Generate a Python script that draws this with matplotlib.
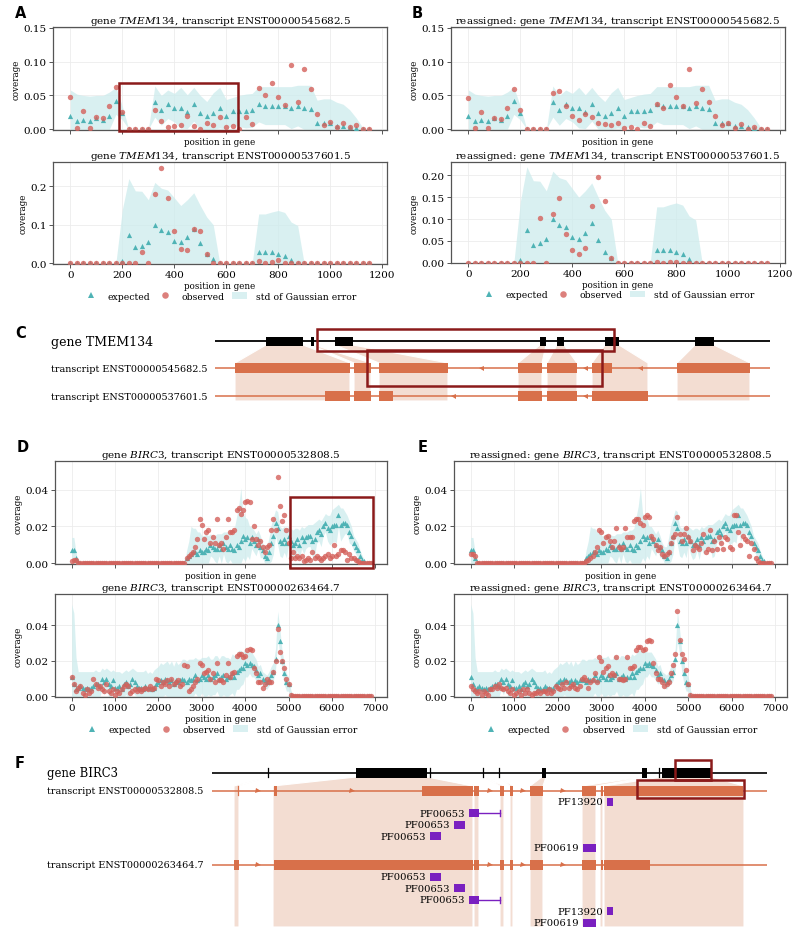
import numpy as np
import matplotlib
matplotlib.use('Agg')
import matplotlib.pyplot as plt
from matplotlib.patches import Rectangle, Polygon, Patch
from matplotlib.lines import Line2D
from matplotlib.ticker import FormatStrFormatter

plt.rcParams['font.family'] = ['DejaVu Serif']
plt.rcParams['mathtext.fontset'] = 'dejavuserif'

# ---------------------------------------------------------------- data: TMEM134
tm_pos = np.arange(0, 1151, 25)

exp_545 = [0.019, 0.012, 0.014, 0.013, 0.016, 0.014, 0.020, 0.042, 0.024,
           0.0, 0.0, 0.0, 0.0,
           0.041, 0.028, 0.037, 0.032, 0.032, 0.026, 0.037, 0.024, 0.019, 0.024, 0.032, 0.019,
           0.027, 0.027, 0.027, 0.028,
           0.037, 0.035, 0.035, 0.035, 0.035, 0.032, 0.035, 0.032, 0.030, 0.010, 0.010, 0.010,
           0.005, 0.005, 0.003, 0.002, 0.000, 0.000]
std_545 = [0.039, 0.040, 0.036, 0.036, 0.034, 0.036, 0.035, 0.020, 0.010,
           0.0, 0.0, 0.0, 0.0,
           0.023, 0.022, 0.021, 0.021, 0.030, 0.025, 0.025, 0.026, 0.022, 0.030, 0.030, 0.025,
           0.020, 0.023, 0.025, 0.025,
           0.026, 0.028, 0.028, 0.028, 0.028, 0.031, 0.030, 0.033, 0.035, 0.033, 0.035, 0.035,
           0.035, 0.032, 0.026, 0.015, 0.003, 0.0]
obs_545_A = [0.048, 0.002, 0.027, 0.002, 0.018, 0.016, 0.034, 0.063, 0.025,
             0.0, 0.0, 0.0, 0.0,
             0.028, 0.013, 0.004, 0.005, 0.006, 0.020, 0.005, 0.001, 0.009, 0.006, 0.018, 0.003,
             0.005, 0.001, 0.018, 0.008,
             0.061, 0.051, 0.069, 0.048, 0.036, 0.095, 0.041, 0.089, 0.060, 0.023, 0.007, 0.011,
             0.004, 0.010, 0.003, 0.007, 0.000, 0.000]
obs_545_B = [0.046, 0.002, 0.026, 0.002, 0.017, 0.015, 0.032, 0.060, 0.028,
             0.0, 0.0, 0.0, 0.0,
             0.054, 0.057, 0.035, 0.019, 0.014, 0.023, 0.018, 0.010, 0.008, 0.006, 0.010, 0.002,
             0.003, 0.001, 0.010, 0.005,
             0.038, 0.031, 0.065, 0.047, 0.034, 0.089, 0.039, 0.059, 0.041, 0.020, 0.006, 0.010,
             0.002, 0.008, 0.001, 0.004, 0.000, 0.000]

exp_537 = [0.0] * 8 + [0.005,
           0.074, 0.041, 0.044, 0.054, 0.100, 0.086, 0.081, 0.059, 0.054, 0.069, 0.090, 0.052, 0.024, 0.010] \
    + [0.0] * 6 + [0.029, 0.028, 0.029, 0.025, 0.020, 0.008] + [0.0] * 12
std_537 = [0.0] * 8 + [0.135,
           0.146, 0.147, 0.143, 0.111, 0.110, 0.109, 0.109, 0.111, 0.096, 0.096, 0.093, 0.098, 0.096, 0.090] \
    + [0.0] * 6 + [0.099, 0.100, 0.104, 0.112, 0.112, 0.099] + [0.098] + [0.0] * 11
obs_537_A = [0.0] * 11 + [0.028, 0.0,
             0.179, 0.248, 0.170, 0.083, 0.038, 0.034, 0.090, 0.083, 0.025] \
    + [0.0] * 7 + [0.006, 0.000, 0.002, 0.008, 0.001, 0.000] + [0.0] * 12
obs_537_B = [0.0] * 11 + [0.102, 0.0,
             0.112, 0.148, 0.066, 0.030, 0.020, 0.033, 0.131, 0.196, 0.142, 0.010] \
    + [0.0] * 6 + [0.002, 0.000, 0.001, 0.001, 0.000, 0.000] + [0.0] * 12

# ---------------------------------------------------------------- data: BIRC3
bi_pos = np.arange(0, 6901, 50)

exp_532 = [0.007, 0.007, 0.003] + [0.0] * 50 + [
    0.003, 0.004, 0.005, 0.006, 0.006, 0.005, 0.007, 0.006, 0.006, 0.008,
    0.007, 0.010, 0.009, 0.008, 0.008, 0.010, 0.008, 0.011, 0.009, 0.008,
    0.010, 0.008, 0.007, 0.010, 0.009, 0.012, 0.015, 0.013, 0.014, 0.011,
    0.014, 0.012, 0.010, 0.013, 0.009, 0.007, 0.004, 0.003, 0.006, 0.011,
    0.015, 0.022, 0.019, 0.012, 0.011, 0.013, 0.011, 0.015, 0.012, 0.010,
    0.011, 0.013, 0.010, 0.014, 0.012, 0.014, 0.015, 0.015, 0.012, 0.013,
    0.017, 0.018, 0.016, 0.020, 0.022, 0.019, 0.018, 0.020, 0.021, 0.021,
    0.026, 0.021, 0.022, 0.022, 0.021, 0.017, 0.015, 0.011, 0.009, 0.007,
    0.004, 0.002, 0.001, 0.000, 0.000, 0.000]
std_532 = [0.007, 0.007, 0.003] + [0.0] * 50 + [
    0.004, 0.008, 0.015, 0.013, 0.013, 0.012, 0.010, 0.009, 0.009, 0.008,
    0.008, 0.006, 0.006, 0.007, 0.008, 0.006, 0.008, 0.006, 0.008, 0.009,
    0.008, 0.010, 0.012, 0.015, 0.022, 0.029, 0.012, 0.012, 0.010, 0.009,
    0.006, 0.006, 0.006, 0.005, 0.006, 0.004, 0.005, 0.006, 0.008, 0.010,
    0.010, 0.007, 0.009, 0.008, 0.008, 0.007, 0.008, 0.005, 0.007, 0.008,
    0.008, 0.006, 0.008, 0.006, 0.007, 0.006, 0.006, 0.006, 0.009, 0.009,
    0.006, 0.006, 0.007, 0.005, 0.005, 0.007, 0.008, 0.009, 0.009, 0.010,
    0.006, 0.009, 0.008, 0.006, 0.005, 0.006, 0.005, 0.004, 0.004, 0.004,
    0.003, 0.002, 0.001, 0.000, 0.000, 0.000]
obs_532_D = [0.001, 0.002, 0.002] + [0.0] * 50 + [
    0.003, 0.004, 0.005, 0.006, 0.009, 0.013, 0.024, 0.021, 0.013, 0.017,
    0.018, 0.011, 0.014, 0.011, 0.024, 0.010, 0.011, 0.008, 0.014, 0.024,
    0.017, 0.017, 0.018, 0.029, 0.030, 0.027, 0.029, 0.033, 0.034, 0.033,
    0.013, 0.020, 0.013, 0.010, 0.012, 0.009, 0.006, 0.009, 0.010, 0.018,
    0.024, 0.018, 0.047, 0.031, 0.023, 0.026, 0.018, 0.011, 0.003, 0.006,
    0.003, 0.004, 0.003, 0.004, 0.001, 0.002, 0.003, 0.002, 0.006, 0.003,
    0.004, 0.003, 0.002, 0.003, 0.004, 0.005, 0.003, 0.004, 0.010, 0.004,
    0.005, 0.007, 0.007, 0.006, 0.002, 0.005, 0.003, 0.003, 0.002, 0.001,
    0.000, 0.000, 0.000, 0.000, 0.000, 0.000]
obs_532_E = [0.005, 0.005, 0.004] + [0.0] * 50 + [
    0.001, 0.002, 0.003, 0.004, 0.006, 0.009, 0.018, 0.017, 0.011, 0.014,
    0.015, 0.012, 0.009, 0.012, 0.019, 0.009, 0.008, 0.009, 0.019, 0.014,
    0.014, 0.014, 0.023, 0.024, 0.024, 0.022, 0.021, 0.025, 0.026, 0.025,
    0.015, 0.013, 0.010, 0.007, 0.009, 0.005, 0.004, 0.005, 0.006, 0.011,
    0.014, 0.016, 0.025, 0.016, 0.012, 0.016, 0.019, 0.014, 0.012, 0.007,
    0.010, 0.009, 0.008, 0.011, 0.016, 0.006, 0.008, 0.018, 0.007, 0.012,
    0.008, 0.014, 0.011, 0.008, 0.014, 0.013, 0.009, 0.008, 0.026, 0.026,
    0.017, 0.010, 0.015, 0.013, 0.012, 0.004, 0.011, 0.008, 0.003, 0.001,
    0.000, 0.000, 0.000, 0.000, 0.000, 0.000]

exp_263 = [
    0.011, 0.007, 0.004, 0.005, 0.006, 0.005, 0.004, 0.005, 0.004, 0.005,
    0.006, 0.007, 0.007, 0.006, 0.010, 0.008, 0.010, 0.007, 0.006, 0.009,
    0.005, 0.005, 0.006, 0.004, 0.007, 0.008, 0.006, 0.007, 0.010, 0.008,
    0.006, 0.005, 0.005, 0.004, 0.006, 0.005, 0.005, 0.004, 0.005, 0.007,
    0.008, 0.009, 0.008, 0.010, 0.009, 0.008, 0.009, 0.007, 0.009, 0.008,
    0.009, 0.010, 0.009, 0.008, 0.010, 0.009, 0.010, 0.012, 0.009, 0.010,
    0.012, 0.011, 0.010, 0.012, 0.010, 0.011, 0.012, 0.013, 0.010, 0.011,
    0.012, 0.010, 0.011, 0.011, 0.013, 0.011, 0.014, 0.015, 0.016, 0.016,
    0.019, 0.018, 0.019, 0.018, 0.017, 0.015, 0.012, 0.013, 0.010, 0.009,
    0.008, 0.010, 0.012, 0.014, 0.021, 0.040, 0.031, 0.020, 0.013, 0.008,
    0.007, 0.001] + [0.0] * 37
std_263 = [
    0.041, 0.040, 0.018, 0.009, 0.008, 0.009, 0.010, 0.009, 0.010, 0.009,
    0.008, 0.008, 0.007, 0.008, 0.006, 0.007, 0.006, 0.008, 0.008, 0.006,
    0.009, 0.009, 0.008, 0.009, 0.007, 0.007, 0.008, 0.008, 0.006, 0.007,
    0.008, 0.009, 0.009, 0.010, 0.009, 0.008, 0.009, 0.009, 0.010, 0.009,
    0.009, 0.010, 0.010, 0.009, 0.011, 0.010, 0.011, 0.010, 0.011, 0.010,
    0.010, 0.011, 0.012, 0.012, 0.011, 0.012, 0.011, 0.010, 0.012, 0.011,
    0.010, 0.011, 0.012, 0.011, 0.011, 0.010, 0.011, 0.010, 0.011, 0.012,
    0.011, 0.012, 0.011, 0.010, 0.011, 0.012, 0.010, 0.011, 0.010, 0.009,
    0.008, 0.007, 0.006, 0.007, 0.006, 0.006, 0.005, 0.005, 0.004, 0.004,
    0.004, 0.004, 0.005, 0.005, 0.006, 0.008, 0.007, 0.006, 0.006, 0.005,
    0.004, 0.003] + [0.0] * 37
obs_263_D = [
    0.011, 0.007, 0.003, 0.005, 0.006, 0.002, 0.001, 0.004, 0.002, 0.003,
    0.010, 0.007, 0.005, 0.006, 0.004, 0.003, 0.007, 0.003, 0.002, 0.004,
    0.001, 0.003, 0.002, 0.004, 0.006, 0.007, 0.006, 0.002, 0.003, 0.004,
    0.003, 0.004, 0.003, 0.004, 0.005, 0.004, 0.006, 0.004, 0.005, 0.010,
    0.009, 0.006, 0.008, 0.007, 0.009, 0.006, 0.010, 0.007, 0.008, 0.009,
    0.006, 0.007, 0.018, 0.017, 0.003, 0.004, 0.006, 0.008, 0.010, 0.019,
    0.018, 0.013, 0.014, 0.015, 0.010, 0.013, 0.008, 0.019, 0.009, 0.009,
    0.008, 0.012, 0.019, 0.011, 0.013, 0.014, 0.023, 0.024, 0.024, 0.022,
    0.023, 0.026, 0.027, 0.026, 0.016, 0.013, 0.008, 0.008, 0.005, 0.007,
    0.010, 0.008, 0.008, 0.014, 0.020, 0.038, 0.025, 0.020, 0.016, 0.010,
    0.007, 0.001] + [0.0] * 37
obs_263_E = [
    0.006, 0.004, 0.003, 0.002, 0.003, 0.001, 0.003, 0.002, 0.001, 0.004,
    0.004, 0.006, 0.005, 0.007, 0.005, 0.004, 0.005, 0.003, 0.002, 0.004,
    0.001, 0.002, 0.003, 0.001, 0.004, 0.002, 0.004, 0.002, 0.001, 0.002,
    0.002, 0.003, 0.002, 0.003, 0.003, 0.002, 0.004, 0.002, 0.003, 0.006,
    0.005, 0.004, 0.007, 0.005, 0.008, 0.005, 0.006, 0.007, 0.005, 0.004,
    0.006, 0.010, 0.011, 0.009, 0.005, 0.008, 0.009, 0.013, 0.008, 0.022,
    0.020, 0.014, 0.016, 0.017, 0.012, 0.013, 0.012, 0.022, 0.010, 0.010,
    0.009, 0.010, 0.022, 0.016, 0.016, 0.017, 0.026, 0.028, 0.028, 0.026,
    0.027, 0.031, 0.032, 0.031, 0.019, 0.013, 0.010, 0.010, 0.008, 0.006,
    0.007, 0.008, 0.013, 0.018, 0.024, 0.048, 0.032, 0.024, 0.021, 0.015,
    0.007, 0.001] + [0.0] * 37

# ---------------------------------------------------------------- data: gene structures
# panel C (diagram units)
C_gene_exons = [(266, 303), (311, 314), (335, 353), (540, 546), (557, 564), (605, 619), (695, 714)]
C_t1_exons = [(235, 350), (354, 371), (379, 448), (518, 542), (547, 577), (592, 612), (677, 750)]
C_t2_exons = [(325, 350), (354, 371), (379, 393), (518, 542), (547, 577), (592, 648)]
C_t1_arrows = [481, 585, 640]
C_t2_arrows = [453, 585]
C_links = [(266, 303, 235, 350), (311, 314, 354, 371), (335, 353, 379, 448), (540, 546, 518, 542),
           (557, 564, 547, 577), (605, 619, 592, 648), (695, 714, 677, 750)]
C_names = ['gene TMEM134', 'transcript ENST00000545682.5', 'transcript ENST00000537601.5']

# panel F
F_gene_exons = [(356, 427), (542, 546), (642, 647), (662, 711)]
F_gene_ticks = [268, 430, 483, 499, 659]
F_t1_exons = [(274, 277), (422, 473), (474, 479), (500, 504), (510, 513), (530, 543), (582, 596),
              (601, 603), (604, 743)]
F_t1_ticks = [238]
F_t2_exons = [(234, 239), (274, 473), (474, 479), (500, 504), (510, 513), (530, 543), (582, 596),
              (601, 603), (604, 650)]
F_t1_arrows = [258, 352, 490, 523, 563]
F_t2_arrows = [258, 490, 523, 563]
F_links = [(268, 268, 234, 239), (356, 427, 273, 473), (430, 430, 474, 479), (483, 483, 500, 504),
           (499, 499, 510, 513), (542, 546, 530, 543), (642, 647, 582, 596), (659, 659, 600, 603),
           (662, 711, 604, 744)]
F_names = ['gene BIRC3', 'transcript ENST00000532808.5', 'transcript ENST00000263464.7']
F_pf_t1 = ['PF13920', 'PF00653', 'PF00653', 'PF00653', 'PF00619']
F_pf_t1_box = [(607, 613), (469, 479), (454, 465), (430, 441), (583, 596)]
F_pf_t1_ext = [None, 500, None, None, None]
F_pf_t2 = ['PF00653', 'PF00653', 'PF00653', 'PF13920', 'PF00619']
F_pf_t2_box = [(430, 441), (454, 465), (469, 479), (607, 613), (583, 596)]
F_pf_t2_ext = [None, None, 500, None, None]

# ---------------------------------------------------------------- style
W, H = 800, 937
TEAL = '#4fb3b5'
RED = '#d4615b'
BAND = '#cdeced'
FRAME = '#555555'
ORANGE = '#d8704a'
PEACH = '#f3ddd2'
PURPLE = '#7a20c0'
DARKRED = '#8b1a1a'

fig = plt.figure(figsize=(W / 100, H / 100), dpi=100)


def px_rect(l, t, r, b):
    return [l / W, 1 - b / H, (r - l) / W, (b - t) / H]


def coverage(box, x, exp, std, obs, title, ylim, yticks, yfmt, xlim, xticks, ticklabels,
             legend=False, hl=None):
    ax = fig.add_axes(px_rect(*box))
    exp = np.asarray(exp, float)
    std = np.asarray(std, float)
    obs = np.asarray(obs, float)
    ax.fill_between(x, np.clip(exp - std, 0, None), exp + std, color=BAND, alpha=0.75, lw=0, zorder=1)
    ax.scatter(x, exp, marker='^', s=14, color=TEAL, lw=0, zorder=3)
    ax.scatter(x, obs, marker='o', s=15, color=RED, alpha=0.8, lw=0, zorder=4)
    ax.set_xlim(*xlim)
    ax.set_ylim(*ylim)
    ax.set_xticks(xticks)
    ax.set_yticks(yticks)
    ax.yaxis.set_major_formatter(FormatStrFormatter(yfmt))
    if not ticklabels:
        ax.set_xticklabels([])
    ax.grid(color='#ececec', lw=0.6, zorder=0)
    ax.set_axisbelow(True)
    for s in ax.spines.values():
        s.set_color(FRAME)
        s.set_linewidth(0.9)
    ax.tick_params(direction='out', length=3, width=0.7, color=FRAME, labelsize=7.5, pad=1.5)
    ax.set_title(title, fontsize=7.5, pad=2.5)
    ax.set_ylabel('coverage', fontsize=6.3, labelpad=2)
    ax.set_xlabel('position in gene', fontsize=6.3, labelpad=1 if ticklabels else 0.5)
    if hl is not None:
        x0, x1, y0, y1 = hl
        ax.add_patch(Rectangle((x0, y0), x1 - x0, y1 - y0, fill=False, ec=DARKRED, lw=1.8,
                               clip_on=False, zorder=6))
    if legend:
        hs = [Line2D([], [], marker='^', ls='none', color=TEAL, ms=4.4, mew=0),
              Line2D([], [], marker='o', ls='none', color=RED, alpha=0.8, ms=4.7, mew=0),
              Patch(facecolor=BAND, edgecolor='none', alpha=0.75)]
        ax.legend(hs, ['expected', 'observed', 'std of Gaussian error'], loc='upper center',
                  bbox_to_anchor=(0.5, -0.235), ncol=3, frameon=False, fontsize=6.7,
                  handlelength=1.6, handletextpad=1.0, columnspacing=0.8, borderaxespad=0)
    return ax


tmx = (-67, 1219)
tmxt = [0, 200, 400, 600, 800, 1000, 1200]
bix = (-385, 7270)
bixt = [0, 1000, 2000, 3000, 4000, 5000, 6000, 7000]

t_g1 = r'gene $\it{TMEM}$134, transcript ENST00000545682.5'
t_g2 = r'gene $\it{TMEM}$134, transcript ENST00000537601.5'
b_g1 = r'gene $\it{BIRC}$3, transcript ENST00000532808.5'
b_g2 = r'gene $\it{BIRC}$3, transcript ENST00000263464.7'

coverage((53, 28, 387, 131), tm_pos, exp_545, std_545, obs_545_A, t_g1, (-0.001, 0.151),
         [0, 0.05, 0.10, 0.15], '%.2f', tmx, tmxt, False, hl=(188, 647, -0.002, 0.0686))
coverage((53, 163, 387, 265), tm_pos, exp_537, std_537, obs_537_A, t_g2, (-0.002, 0.263),
         [0, 0.1, 0.2], '%.1f', tmx, tmxt, True, legend=True)
coverage((451, 28, 785, 131), tm_pos, exp_545, std_545, obs_545_B, 'reassigned: ' + t_g1,
         (-0.001, 0.151), [0, 0.05, 0.10, 0.15], '%.2f', tmx, tmxt, False)
coverage((451, 163, 785, 264), tm_pos, exp_537, std_537, obs_537_B, 'reassigned: ' + t_g2,
         (-0.001, 0.231), [0, 0.05, 0.10, 0.15, 0.20], '%.2f', tmx, tmxt, True, legend=True)

coverage((55, 462, 387, 565), bi_pos, exp_532, std_532, obs_532_D, b_g1, (-0.0004, 0.0555),
         [0, 0.02, 0.04], '%.2f', bix, bixt, False, hl=(5034, 6940, -0.0025, 0.0357))
coverage((55, 595, 387, 698), bi_pos, exp_263, std_263, obs_263_D, b_g2, (-0.0003, 0.0577),
         [0, 0.02, 0.04], '%.2f', bix, bixt, True, legend=True)
coverage((454, 462, 787, 565), bi_pos, exp_532, std_532, obs_532_E, 'reassigned: ' + b_g1,
         (-0.0004, 0.0555), [0, 0.02, 0.04], '%.2f', bix, bixt, False)
coverage((454, 595, 787, 698), bi_pos, exp_263, std_263, obs_263_E, 'reassigned: ' + b_g2,
         (-0.0003, 0.0577), [0, 0.02, 0.04], '%.2f', bix, bixt, True, legend=True)


# ---------------------------------------------------------------- diagrams
def diagram_axes(top, bottom):
    ax = fig.add_axes(px_rect(0, top, W, bottom))
    ax.set_xlim(0, W)
    ax.set_ylim(bottom, top)
    ax.axis('off')
    return ax


def links(ax, lk, yg, yt, ybot):
    for g0, g1, t0, t1 in lk:
        ax.add_patch(Polygon([(g0, yg), (g1, yg), (t1, yt), (t1, ybot), (t0, ybot), (t0, yt)],
                             closed=True, fc=PEACH, ec='white', lw=0.8, zorder=1))


def track(ax, x0, x1, y, exons, color, lw, h, arrows=None, amark='<', ticks=None, tick_h=8):
    ax.plot([x0, x1], [y, y], color=color, lw=lw, solid_capstyle='butt', zorder=3)
    for a, b in exons:
        ax.add_patch(Rectangle((a, y - h / 2), b - a, h, fc=color, ec='none', zorder=4))
    if arrows:
        ax.plot(arrows, [y] * len(arrows), ls='none', marker=amark, ms=3.6, color=color,
                mew=0, zorder=4)
    if ticks:
        for t in ticks:
            ax.plot([t, t], [y - tick_h / 2, y + tick_h / 2], color=color, lw=0.9, zorder=4)


# panel C
axC = diagram_axes(310, 410)
links(axC, C_links, 346, 364, 402)
track(axC, 215, 770, 342, C_gene_exons, 'black', 1.3, 9)
track(axC, 215, 770, 369, C_t1_exons, ORANGE, 1.1, 10, C_t1_arrows, '<')
track(axC, 215, 770, 397, C_t2_exons, ORANGE, 1.1, 10, C_t2_arrows, '<')
axC.text(51, 342, C_names[0], fontsize=9, va='center', ha='left')
axC.text(51, 369, C_names[1], fontsize=6.9, va='center', ha='left')
axC.text(51, 397, C_names[2], fontsize=6.9, va='center', ha='left')
axC.add_patch(Rectangle((317, 330), 614 - 317, 352 - 330, fill=False, ec=DARKRED, lw=1.8, zorder=6))
axC.add_patch(Rectangle((367, 351), 602 - 367, 387 - 351, fill=False, ec=DARKRED, lw=1.8, zorder=6))

# panel F
axF = diagram_axes(750, 937)
links(axF, F_links, 778, 787, 928)
track(axF, 212, 767, 774, F_gene_exons, 'black', 1.2, 10, ticks=F_gene_ticks, tick_h=9)
track(axF, 212, 767, 792, F_t1_exons, ORANGE, 1.1, 10, F_t1_arrows, '>', ticks=F_t1_ticks, tick_h=9)
track(axF, 212, 767, 866, F_t2_exons, ORANGE, 1.1, 10, F_t2_arrows, '>')
axF.text(47, 774, F_names[0], fontsize=8.4, va='center', ha='left')
axF.text(47, 792, F_names[1], fontsize=6.9, va='center', ha='left')
axF.text(47, 866, F_names[2], fontsize=6.9, va='center', ha='left')


def domains(ax, names, boxes, exts, y_first, step):
    for i, (nm, (a, b), ext) in enumerate(zip(names, boxes, exts)):
        y = y_first + i * step
        ax.add_patch(Rectangle((a, y - 4), b - a, 8, fc=PURPLE, ec='none', zorder=5))
        if ext is not None:
            ax.plot([b, ext], [y, y], color=PURPLE, lw=1.0, zorder=5)
            ax.plot([ext, ext], [y - 3, y + 3], color=PURPLE, lw=1.0, zorder=5)
        ax.text(a - 4, y, nm, fontsize=7.2, ha='right', va='center', zorder=6)


domains(axF, F_pf_t1, F_pf_t1_box, F_pf_t1_ext, 803, 11.5)
domains(axF, F_pf_t2, F_pf_t2_box, F_pf_t2_ext, 878, 11.5)
axF.add_patch(Rectangle((675, 761), 711 - 675, 781 - 761, fill=False, ec=DARKRED, lw=1.8, zorder=6))
axF.add_patch(Rectangle((637, 781), 744 - 637, 799 - 781, fill=False, ec=DARKRED, lw=1.8, zorder=6))

# ---------------------------------------------------------------- panel letters
for lab, (x, y) in zip('ABCDEF', [(15, 14), (412, 14), (15, 333), (17, 448), (418, 448), (15, 764)]):
    fig.text(x / W, 1 - y / H, lab, fontsize=10.5, fontweight='bold', family='DejaVu Sans',
             ha='left', va='center')

fig.savefig('out.png', dpi=100)
